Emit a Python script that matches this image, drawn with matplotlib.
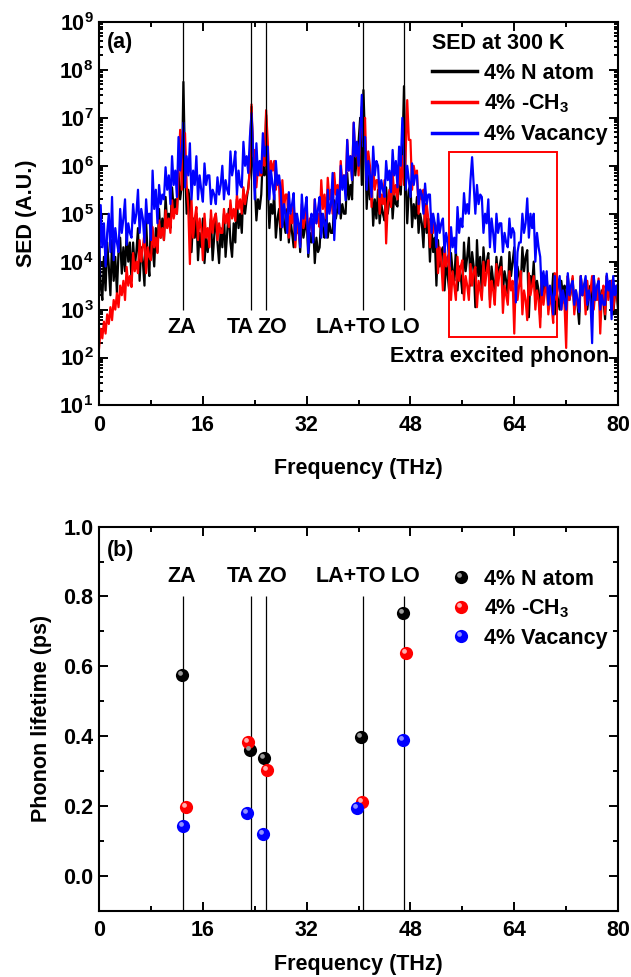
import numpy as np
import matplotlib
matplotlib.use('Agg')
import matplotlib.pyplot as plt
from matplotlib.path import Path
from matplotlib.lines import Line2D
from matplotlib.patches import Rectangle
from matplotlib.ticker import MultipleLocator, LogLocator, NullFormatter, FormatStrFormatter

plt.rcParams['font.family'] = ['Liberation Sans', 'DejaVu Sans']
plt.rcParams['font.weight'] = 'bold'
plt.rcParams['axes.labelweight'] = 'bold'
plt.rcParams['mathtext.fontset'] = 'custom'
plt.rcParams['mathtext.rm'] = 'Liberation Sans:bold'
plt.rcParams['mathtext.it'] = 'Liberation Sans:bold'
plt.rcParams['mathtext.bf'] = 'Liberation Sans:bold'

# SED spectra, sampled every 0.25 THz (log10 of SED, read off the picture)
# one row = 5 THz
freq = np.linspace(0, 80, 321)

sed_n = [
    4.4, 3.5, 3.2, 4.1, 3.4, 4.4, 3.9, 3.3, 4.45, 3.6, 4.1, 3.35, 4.2, 4.5, 3.75, 4.3, 3.8, 4.6, 4.0, 4.4,
    3.6, 4.4, 3.9, 4.2, 4.7, 3.6, 4.3, 4.0, 3.5, 4.85, 4.1, 3.7, 5.0, 4.3, 3.9, 4.7, 4.2, 5.1, 4.5, 4.9,
    4.45, 5.35, 4.8, 5.0, 4.7, 5.55, 5.1, 5.3, 5.0, 5.85, 5.3, 5.6, 7.75, 6.0, 5.0, 5.5, 5.28, 4.2, 4.9, 4.5,
    5.0, 4.03, 4.6, 4.3, 4.9, 3.97, 4.5, 4.2, 4.6, 4.9, 4.03, 4.5, 5.0, 4.4, 3.97, 4.7, 4.3, 5.0, 4.1, 4.6,
    5.1, 4.4, 4.1, 4.8, 4.4, 5.3, 4.7, 5.0, 4.6, 5.5, 5.0, 5.3, 5.55, 5.9, 7.23, 6.0, 5.6, 4.86, 5.3, 5.1,
    5.4, 6.2, 5.8, 7.06, 5.6, 4.7, 5.2, 5.0, 5.4, 4.5, 4.9, 5.1, 4.45, 5.28, 4.8, 4.6, 5.1, 4.4, 4.9, 4.6,
    4.3, 5.0, 4.6, 4.8, 4.2, 4.9, 4.5, 4.7, 4.86, 4.1, 4.6, 4.4, 4.8, 3.97, 4.5, 4.2, 4.3, 5.0, 4.7, 4.5,
    5.1, 4.5, 4.8, 4.6, 4.6, 5.28, 4.9, 5.1, 5.5, 4.9, 5.2, 5.0, 5.0, 5.85, 5.3, 5.6, 5.3, 6.5, 5.8, 6.2,
    6.5, 7.0, 5.6, 7.58, 6.5, 5.1, 5.8, 5.3, 5.7, 4.75, 5.3, 4.9, 5.5, 4.8, 5.2, 5.0, 4.86, 5.55, 5.0, 5.3,
    5.7, 4.9, 5.4, 5.2, 5.15, 5.85, 5.4, 6.2, 7.66, 5.7, 4.8, 5.5, 5.6, 4.72, 5.2, 4.9, 5.35, 4.6, 5.0, 4.8,
    4.3, 5.2, 4.6, 4.9, 4.0, 4.7, 4.2, 4.5, 3.5, 4.45, 3.9, 4.2, 4.3, 3.4, 4.0, 3.7, 3.34, 4.18, 3.8, 3.6,
    4.25, 3.4, 3.9, 3.7, 3.34, 4.4, 3.8, 4.1, 4.5, 3.5, 4.2, 3.9, 3.05, 4.45, 3.7, 4.1, 3.3, 4.3, 3.8, 4.0,
    4.18, 3.2, 3.9, 3.6, 3.3, 4.1, 3.7, 3.9, 4.1, 3.35, 3.8, 3.6, 3.34, 4.2, 3.7, 4.0, 4.3, 3.4, 3.9, 3.7,
    3.5, 4.3, 3.8, 4.1, 4.24, 2.84, 3.7, 3.5, 4.0, 3.2, 3.6, 3.4, 2.84, 3.76, 3.3, 3.5, 3.7, 3.0, 3.4, 3.2,
    3.75, 2.9, 3.4, 3.2, 3.0, 3.6, 3.3, 3.5, 2.8, 3.7, 3.2, 3.4, 3.65, 3.0, 3.4, 3.1, 2.7, 3.7, 3.3, 3.5,
    3.6, 3.0, 3.3, 3.5, 2.9, 3.7, 3.2, 3.4, 3.55, 3.0, 3.4, 3.2, 2.8, 3.7, 3.3, 3.5, 3.6, 2.9, 3.3, 3.4,
    3.0,
]

sed_ch3 = [
    2.2, 2.6, 2.4, 2.75, 2.5, 2.9, 2.7, 3.05, 2.78, 3.2, 3.0, 3.34, 3.05, 3.5, 3.3, 3.6, 3.2, 3.89, 3.5, 3.7,
    3.47, 4.18, 3.8, 4.0, 3.76, 4.45, 4.0, 4.3, 4.6, 3.76, 4.3, 4.1, 4.03, 4.72, 4.3, 4.5, 4.18, 4.86, 4.5, 4.7,
    4.45, 5.07, 4.7, 4.9, 4.6, 5.28, 4.9, 5.1, 5.0, 5.85, 6.75, 5.5, 6.2, 6.68, 5.6, 5.14, 3.95, 5.28, 4.5, 4.9,
    5.14, 4.45, 4.9, 4.7, 4.03, 5.0, 4.5, 4.7, 4.3, 5.07, 4.6, 4.9, 5.0, 4.45, 4.8, 4.6, 4.6, 5.1, 4.8, 5.0,
    4.72, 5.28, 4.9, 5.1, 4.85, 5.4, 5.1, 5.3, 5.0, 5.55, 5.2, 5.4, 5.5, 6.0, 7.28, 6.2, 6.33, 5.55, 6.0, 5.8,
    5.8, 6.3, 6.0, 7.16, 6.5, 5.6, 6.1, 5.9, 6.1, 5.5, 5.8, 5.6, 4.72, 5.7, 5.1, 5.4, 5.4, 4.5, 5.0, 4.8,
    5.28, 4.3, 4.9, 4.6, 4.4, 5.2, 4.7, 4.9, 5.14, 4.45, 4.9, 4.7, 4.5, 5.3, 4.8, 5.0, 4.72, 5.7, 5.1, 5.4,
    4.9, 5.75, 5.3, 5.5, 5.0, 5.85, 5.4, 5.6, 5.2, 6.1, 5.6, 5.8, 5.43, 6.54, 5.9, 6.2, 5.7, 6.9, 6.2, 6.5,
    5.8, 6.5, 7.23, 6.6, 7.0, 5.7, 6.3, 6.0, 5.14, 6.0, 5.5, 5.7, 5.7, 5.0, 5.4, 5.2, 5.7, 4.38, 5.2, 5.5,
    5.14, 5.85, 5.4, 5.6, 5.3, 6.0, 5.6, 6.2, 5.6, 6.2, 7.37, 6.54, 6.54, 5.5, 6.0, 5.8, 5.9, 5.0, 5.5, 5.3,
    5.5, 4.72, 5.2, 4.9, 4.3, 5.0, 4.6, 4.8, 4.72, 3.76, 4.3, 4.0, 3.4, 4.4, 3.9, 4.1, 4.18, 3.2, 3.8, 3.5,
    3.2, 4.1, 3.6, 3.9, 4.03, 3.2, 3.7, 3.5, 3.2, 3.95, 3.5, 3.8, 3.89, 3.05, 3.6, 3.4, 3.2, 4.0, 3.5, 3.8,
    4.03, 3.05, 3.6, 3.4, 3.1, 3.95, 3.5, 3.8, 3.89, 2.93, 3.5, 3.3, 3.1, 3.8, 3.4, 3.6, 2.5, 3.76, 3.2, 3.5,
    3.8, 2.9, 3.4, 3.2, 2.78, 3.76, 3.3, 3.5, 3.7, 3.0, 3.4, 3.2, 2.63, 3.6, 3.1, 3.4, 3.65, 2.9, 3.3, 3.1,
    2.72, 3.76, 3.2, 3.5, 3.6, 3.0, 3.3, 3.1, 2.2, 3.7, 3.2, 3.4, 3.7, 2.9, 3.3, 3.1, 3.0, 3.7, 3.3, 3.5,
    2.9, 3.6, 3.2, 3.4, 3.7, 3.0, 3.4, 3.2, 3.65, 2.5, 3.3, 3.5, 2.9, 3.7, 3.2, 3.4, 3.6, 3.0, 3.3, 3.5,
    3.1,
]

sed_vac = [
    3.7, 5.18, 4.3, 4.8, 3.9, 4.6, 5.0, 4.2, 5.35, 4.03, 4.7, 4.4, 4.2, 5.1, 4.6, 4.9, 5.3, 4.35, 4.8, 4.6,
    4.5, 5.2, 4.8, 5.0, 5.5, 4.6, 5.1, 4.9, 4.4, 5.3, 4.8, 5.0, 4.45, 5.9, 5.1, 5.5, 4.8, 5.6, 5.2, 5.4,
    5.3, 5.97, 5.5, 5.8, 5.2, 6.2, 5.6, 5.9, 5.35, 6.6, 5.9, 6.3, 6.9, 5.55, 6.2, 5.8, 6.47, 5.3, 5.9, 5.6,
    6.2, 5.3, 5.8, 5.5, 5.25, 6.05, 5.6, 5.8, 5.8, 5.2, 5.5, 5.4, 5.2, 5.76, 5.4, 5.6, 6.0, 5.3, 5.7, 5.5,
    5.4, 6.3, 5.8, 6.0, 6.3, 5.4, 5.9, 5.6, 5.55, 6.5, 6.0, 6.2, 5.85, 6.6, 7.1, 6.3, 5.3, 6.47, 5.8, 6.1,
    5.85, 6.68, 6.2, 6.4, 6.4, 5.3, 5.9, 5.6, 5.3, 6.1, 5.6, 5.8, 5.5, 4.72, 5.2, 5.0, 4.6, 5.45, 5.0, 5.2,
    5.43, 4.45, 5.0, 4.8, 4.3, 5.4, 4.9, 5.1, 5.35, 4.18, 4.8, 5.0, 4.4, 5.3, 4.8, 5.1, 5.35, 4.5, 5.0, 4.8,
    4.5, 5.5, 5.0, 5.2, 5.85, 4.45, 5.2, 5.5, 5.0, 6.0, 5.5, 5.8, 5.28, 6.54, 5.9, 6.2, 5.7, 6.9, 6.2, 6.5,
    6.0, 6.6, 7.48, 6.4, 6.6, 5.5, 6.1, 5.8, 5.35, 6.4, 5.8, 6.1, 6.0, 5.35, 5.7, 5.5, 5.35, 6.1, 5.7, 5.9,
    5.45, 6.33, 5.8, 6.1, 5.55, 6.4, 6.0, 7.0, 6.4, 5.5, 6.0, 5.7, 5.35, 6.05, 5.6, 5.8, 5.8, 5.2, 5.5, 5.4,
    5.0, 5.63, 5.2, 5.4, 5.4, 4.6, 5.0, 4.8, 4.3, 5.0, 4.6, 4.8, 4.9, 4.2, 4.6, 4.4, 3.9, 4.72, 4.3, 4.5,
    4.18, 5.14, 4.6, 4.9, 4.72, 5.43, 5.0, 5.2, 5.0, 5.7, 6.18, 5.6, 5.0, 5.6, 5.2, 5.4, 5.35, 4.6, 5.0, 4.8,
    5.3, 4.3, 4.9, 4.6, 4.2, 5.0, 4.6, 4.8, 4.8, 4.2, 4.6, 4.4, 4.3, 4.9, 4.5, 4.7, 4.6, 3.15, 4.2, 4.4,
    4.4, 5.0, 4.6, 4.8, 5.32, 4.5, 5.0, 4.7, 5.0, 4.0, 4.6, 4.3, 4.1, 3.3, 3.8, 3.5, 3.8, 3.1, 3.5, 3.3,
    2.9, 3.7, 3.3, 3.5, 3.7, 3.0, 3.4, 3.2, 3.0, 3.76, 3.3, 3.5, 3.6, 3.1, 3.4, 3.2, 2.95, 3.7, 3.3, 3.5,
    3.7, 3.1, 3.4, 3.2, 2.3, 3.7, 3.2, 3.5, 3.6, 3.0, 3.3, 3.1, 3.1, 3.75, 3.4, 3.6, 2.8, 3.7, 3.3, 3.5,
    3.2,
]

# phonon modes marked by vertical lines
mode_names = ['ZA', 'TA', 'ZO', 'LA+TO', 'LO']
mode_freq = [13.0, 23.47, 25.78, 40.73, 47.05]
label_freq = [12.8, 21.7, 26.7, 38.8, 47.3]

# phonon lifetimes (ps)
tau_n_f = [12.8, 23.3, 25.5, 40.3, 46.9]
tau_n = [0.576, 0.36, 0.336, 0.397, 0.752]
tau_ch3_f = [13.4, 23.0, 25.9, 40.6, 47.3]
tau_ch3 = [0.198, 0.382, 0.303, 0.211, 0.639]
tau_vac_f = [12.9, 22.8, 25.2, 39.8, 46.9]
tau_vac = [0.143, 0.179, 0.119, 0.195, 0.388]

series_names = ['4% N atom', '4% -CH$_3$', '4% Vacancy']
colors = ['black', 'red', 'blue']
highlights = ['#9a9a9a', '#ffb0b0', '#9090ff']

fs = 15.5

fig = plt.figure(figsize=(6.31, 9.77), dpi=100)
ax1 = fig.add_axes([0.157, 0.585, 0.8225, 0.3925])
ax2 = fig.add_axes([0.157, 0.068, 0.8225, 0.393])


def style_axes(ax):
    for sp in ax.spines.values():
        sp.set_linewidth(1.5)
    ax.tick_params(which='both', direction='in', top=True, right=True,
                   width=1.4, labelsize=fs)
    ax.tick_params(axis='x', pad=7)
    ax.tick_params(axis='y', pad=4)
    ax.tick_params(which='major', length=6.5)
    ax.tick_params(which='minor', length=3.5)
    ax.xaxis.set_major_locator(MultipleLocator(16))
    ax.xaxis.set_minor_locator(MultipleLocator(8))
    ax.set_xlim(0, 80)


# ---- (a) SED spectra ----
for vals, c in zip([sed_n, sed_ch3, sed_vac], colors):
    ax1.plot(freq, 10 ** np.array(vals), color=c, lw=1.6)
ax1.vlines(mode_freq, 1e3, 1e9, color='black', lw=0.9)
ax1.set_yscale('log')
ax1.set_ylim(10, 1e9)
style_axes(ax1)
ax1.yaxis.set_major_locator(LogLocator(base=10, numticks=20))
ax1.yaxis.set_minor_locator(LogLocator(base=10, subs=np.arange(2, 10), numticks=20))
ax1.yaxis.set_minor_formatter(NullFormatter())
ax1.tick_params(axis='y', which='minor', length=3)
ax1.set_xlabel('Frequency (THz)', fontsize=fs, labelpad=16)
ax1.set_ylabel('SED (A.U.)', fontsize=fs, labelpad=16)
ax1.text(0.016, 0.975, '(a)', transform=ax1.transAxes, fontsize=fs, va='top')
for name, f in zip(mode_names, label_freq):
    ax1.text(f, 10 ** 2.63, name, fontsize=fs, ha='center', va='center')
ax1.add_patch(Rectangle((53.9, 10 ** 2.42), 70.6 - 53.9, 10 ** 6.29 - 10 ** 2.42,
                        fill=False, edgecolor='red', lw=1.4, zorder=5))
ax1.text(61.8, 10 ** 2.03, 'Extra excited phonon', fontsize=fs, ha='center', va='center')
handles = [Line2D([], [], color=c, lw=2.5) for c in colors]
ax1.legend(handles, series_names, title='SED at 300 K', loc='upper right',
           bbox_to_anchor=(1.0, 1.0), frameon=False, fontsize=fs,
           title_fontproperties={'size': fs, 'weight': 'bold'},
           alignment='left', handlelength=2.1, handletextpad=0.3,
           labelspacing=0.42, borderpad=0.3, borderaxespad=0.2)

# ---- (b) phonon lifetime ----
circ = Path.circle((-0.3, 0.32), 0.36)
hl_path = Path(np.vstack([circ.vertices, [[1.0, 0.0]]]),
               np.concatenate([circ.codes, [Path.MOVETO]]))

ax2.vlines(mode_freq, -0.1, 0.8, color='black', lw=0.9)
for fx, tau, c, h in zip([tau_n_f, tau_ch3_f, tau_vac_f], [tau_n, tau_ch3, tau_vac],
                         colors, highlights):
    ax2.plot(fx, tau, 'o', ms=9.5, color=c, mec='none', ls='none', zorder=4)
    ax2.plot(fx, tau, marker=hl_path, ms=9.5, color=h, mec='none', ls='none', zorder=5)
ax2.set_ylim(-0.1, 1.0)
style_axes(ax2)
ax2.yaxis.set_major_locator(MultipleLocator(0.2))
ax2.yaxis.set_minor_locator(MultipleLocator(0.1))
ax2.yaxis.set_major_formatter(FormatStrFormatter('%.1f'))
ax2.set_xlabel('Frequency (THz)', fontsize=fs, labelpad=9)
ax2.set_ylabel('Phonon lifetime (ps)', fontsize=fs, labelpad=8)
ax2.text(0.016, 0.965, '(b)', transform=ax2.transAxes, fontsize=fs, va='top')
for name, f in zip(mode_names, label_freq):
    ax2.text(f, 0.856, name, fontsize=fs, ha='center', va='center')
handles2 = [(Line2D([], [], marker='o', ms=9.5, color=c, mec='none', ls='none'),
             Line2D([], [], marker=hl_path, ms=9.5, color=h, mec='none', ls='none'))
            for c, h in zip(colors, highlights)]
ax2.legend(handles2, series_names, loc='upper left', bbox_to_anchor=(0.655, 0.918),
           frameon=False, fontsize=fs, handlelength=1.0, handletextpad=0.6,
           labelspacing=0.35, borderpad=0.0)

fig.savefig('out.png', dpi=100)
